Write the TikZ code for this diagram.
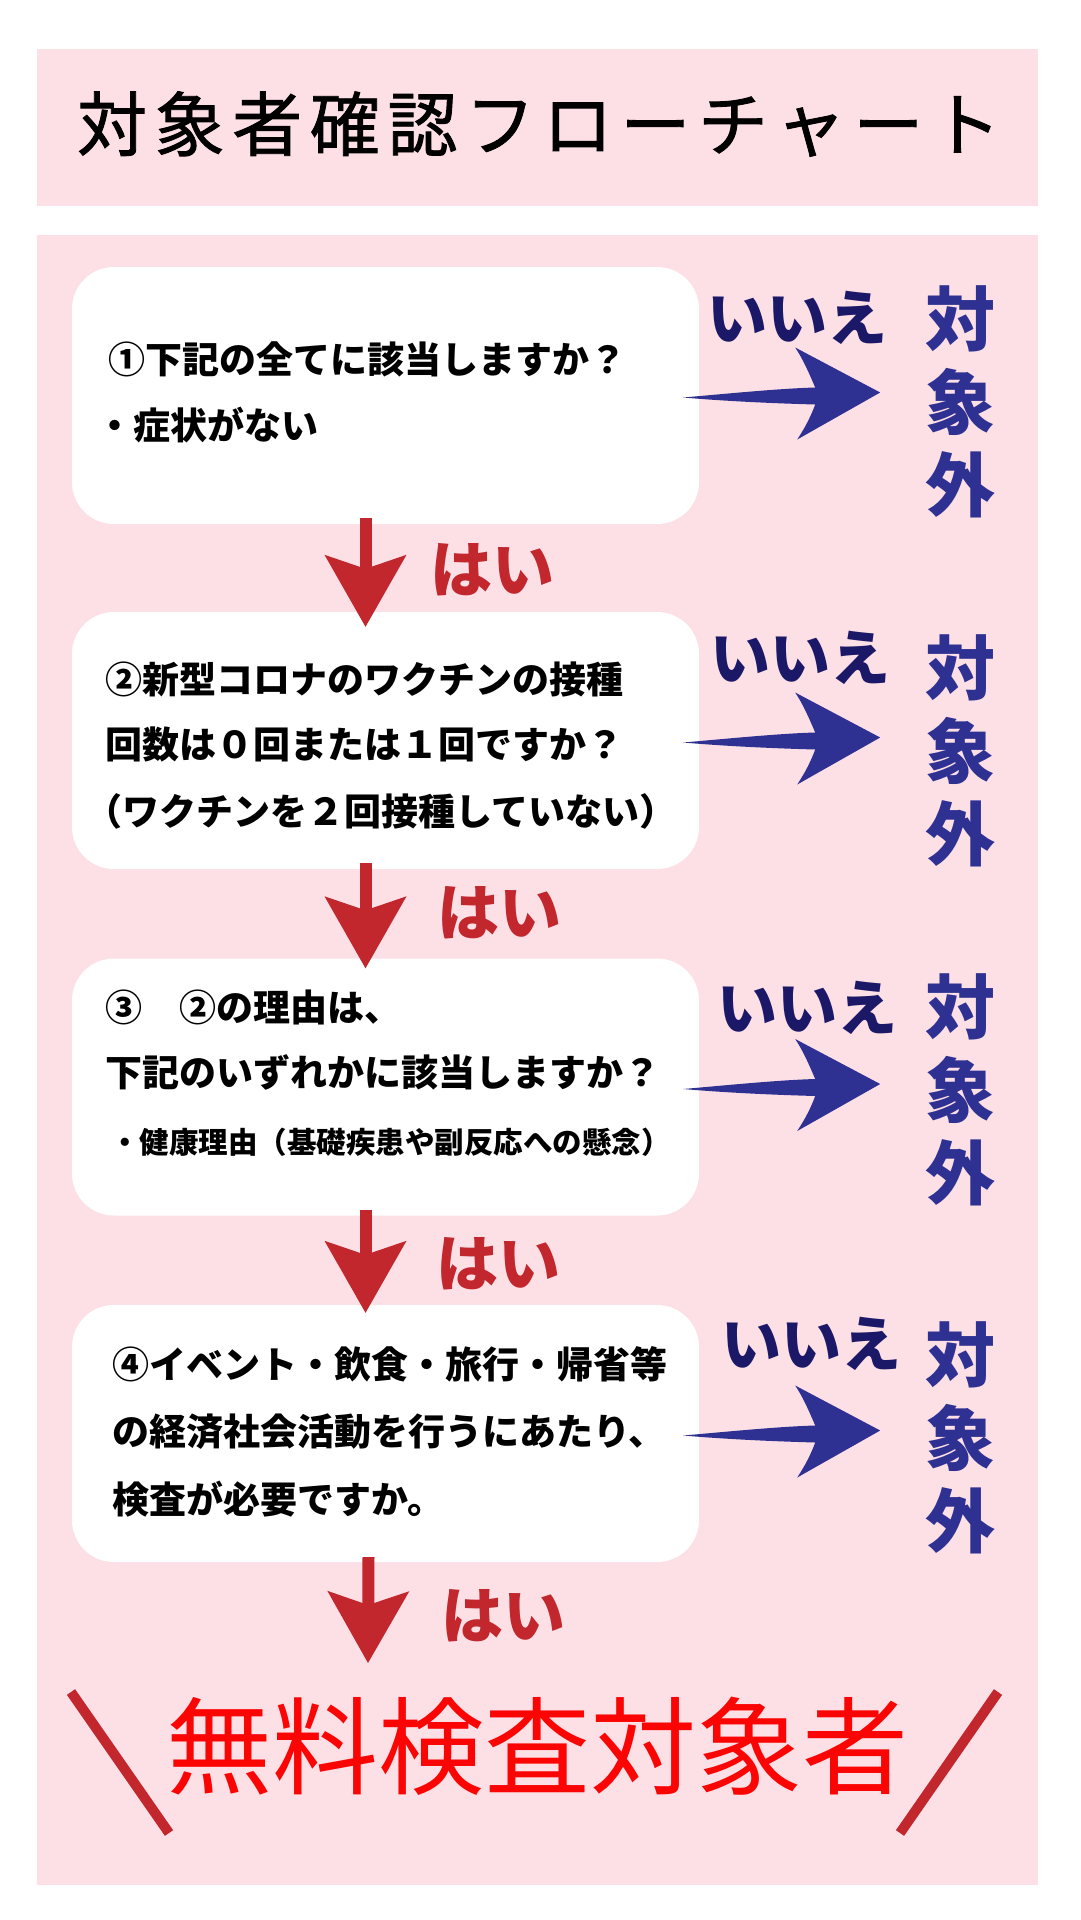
\documentclass[tikz,border=0pt]{standalone}
\usepackage{fontspec}
\newfontfamily\jp{Noto Sans CJK JP}
\newfontfamily\jptitle[FakeBold=1.2]{Noto Sans CJK JP}
\usetikzlibrary{arrows.meta,calc}
\definecolor{bgpink}{RGB}{253,224,230}
\definecolor{hired}{RGB}{193,39,45}
\definecolor{ngnavy}{RGB}{28,24,104}
\definecolor{ngblue}{RGB}{46,49,146}
\definecolor{finred}{RGB}{250,4,4}
\newcommand\jfs[1]{\fontsize{#1pt}{#1pt}\selectfont}
\newcommand\noarrowshape[1]{%
  \begin{scope}[shift={(#1)}]
    \fill[ngblue] (-16,2) .. controls (30,-2) and (80,-7) .. (116,-8)
      .. controls (110,-22) and (104,-36) .. (96,-48)
      -- (181,-3) -- (98,44)
      .. controls (106,32) and (112,20) .. (116,9)
      .. controls (80,8) and (30,6) .. (-16,2) -- cycle;
  \end{scope}}
\begin{document}
\begin{tikzpicture}[x={(1pt,0pt)},y={(0pt,-1pt)},
  qbox/.style={rectangle, rounded corners=42pt, fill=white, minimum width=627pt, minimum height=257pt, inner sep=0pt},
  qline/.style={anchor=west, inner sep=0pt, font=\jp\bfseries\jfs{37}},
  qsub/.style={anchor=west, inner sep=0pt, font=\jp\bfseries\jfs{29.5}},
  yeslbl/.style={inner sep=0pt, text=hired, font=\jp\bfseries\jfs{62}},
  nolbl/.style={inner sep=0pt, text=ngnavy, font=\jp\bfseries\jfs{60}},
  outlbl/.style={inner sep=0pt, text=ngblue, align=center, font=\jp\bfseries\fontsize{70pt}{83pt}\selectfont},
  downarrow/.style={draw=hired, line width=12pt, -{Stealth[length=72pt, width=82pt, inset=14pt, line width=0pt]}},
  slashline/.style={draw=hired, line width=10pt},
]
\useasboundingbox (0,0) rectangle (1080,1920);
\fill[white] (0,0) rectangle (1080,1920);
\fill[bgpink] (37,49) rectangle (1038,206);
\fill[bgpink] (37,235) rectangle (1038,1885);

\node[font=\jptitle\jfs{70}, inner sep=0pt] (title) at (539,124) {\makebox[924pt][s]{対\hfill 象\hfill 者\hfill 確\hfill 認\hfill フ\hfill ロ\hfill ー\hfill チ\hfill ャ\hfill ー\hfill ト}};

\node[qbox] (b1) at (385.5,395.5) {};
\node[qbox] (b2) at (385.5,740.5) {};
\node[qbox] (b3) at (385.5,1087) {};
\node[qbox] (b4) at (385.5,1433.5) {};

\node[qline] (t1a) at (108,359) {①下記の全てに該当しますか？};
\node[qline] (t1b) at (96,425) {・症状がない};
\node[qline] (t2a) at (105,679) {②新型コロナのワクチンの接種};
\node[qline] (t2b) at (105,744) {回数は０回または１回ですか？};
\node[qline] (t2c) at (85,811) {（ワクチンを２回接種していない）};
\node[qline] (t3a) at (105,1007) {③　②の理由は、};
\node[qline] (t3b) at (105,1072) {下記のいずれかに該当しますか？};
\node[qsub] (t3c) at (110,1142) {・健康理由（基礎疾患や副反応への懸念）};
\node[qline] (t4a) at (112,1364) {④イベント・飲食・旅行・帰省等};
\node[qline] (t4b) at (112,1432) {の経済社会活動を行うにあたり、};
\node[qline] (t4c) at (112,1499) {検査が必要ですか。};

\node[outlbl] (o1) at (960,402) {対\\象\\外};
\node[outlbl] (o2) at (960,751) {対\\象\\外};
\node[outlbl] (o3) at (960,1090) {対\\象\\外};
\node[outlbl] (o4) at (960,1438) {対\\象\\外};

\node[nolbl] (n1) at (797,318) {いいえ};
\node[nolbl] (n2) at (800,658) {いいえ};
\node[nolbl] (n3) at (807,1008) {いいえ};
\node[nolbl] (n4) at (811,1344) {いいえ};

\noarrowshape{b1.east}
\noarrowshape{b2.east}
\noarrowshape{b3.east}
\noarrowshape{b4.east}

\node[inner sep=0pt, text=finred, font=\jp\jfs{106}] (fin) at (537,1746) {無料検査対象者};
\coordinate (finTop) at (368,1663);

\draw[downarrow] ($(b1.south)+(-20,-6)$) -- ($(b2.north)+(-20,15)$);
\draw[downarrow] ($(b2.south)+(-20,-6)$) -- ($(b3.north)+(-20,10)$);
\draw[downarrow] ($(b3.south)+(-20,-6)$) -- ($(b4.north)+(-20,8)$);
\draw[downarrow] ($(b4.south)+(-17,-5)$) -- (finTop);

\node[yeslbl] (y1) at (492,570) {はい};
\node[yeslbl] (y2) at (499,913) {はい};
\node[yeslbl] (y3) at (498,1264) {はい};
\node[yeslbl] (y4) at (503,1616) {はい};

\draw[slashline] (71,1692) -- (169,1833);
\draw[slashline] (998,1692) -- (900,1833);
\end{tikzpicture}
\end{document}
